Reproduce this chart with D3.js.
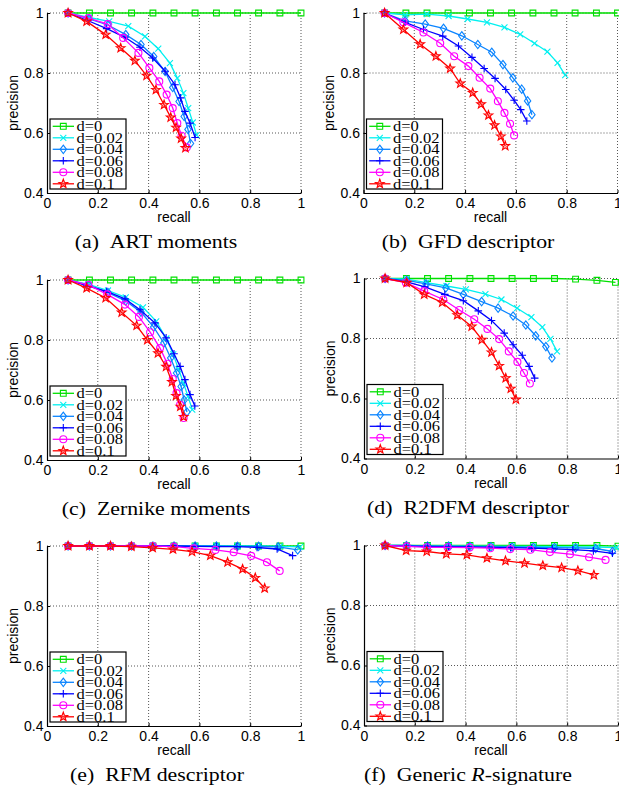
<!DOCTYPE html>
<html>
<head>
<meta charset="utf-8">
<script src="https://cdn.jsdelivr.net/npm/d3@7"></script>
<style>
  html, body { margin: 0; padding: 0; background: #fff; }
  svg { display: block; }
</style>
</head>
<body>
<svg id="chart" width="619" height="795"></svg>
<script>
// Series legend, colours and markers (same for all six panels)
const seriesLabels = ['d=0', 'd=0.02', 'd=0.04', 'd=0.06', 'd=0.08', 'd=0.1'];
const seriesColors = ['#00e000', '#00f0f0', '#0a84ff', '#0000ff', '#ff00ff', '#ff0000'];
const seriesMarkers = ['square', 'x', 'diamond', 'plus', 'circle', 'star'];

const xTicks = [0, 0.2, 0.4, 0.6, 0.8, 1];
const yTicks = [0.4, 0.6, 0.8, 1];

// Each panel: 6 series of [recall, precision]
const artMoments = [
  [[0.083,1],[0.167,1],[0.25,1],[0.333,1],[0.417,1],[0.5,1],[0.583,1],[0.667,1],[0.75,1],[0.833,1],[0.917,1],[1,1]],
  [[0.083,1],[0.165,0.985],[0.245,0.972],[0.32,0.956],[0.386,0.922],[0.438,0.881],[0.484,0.833],[0.513,0.783],[0.537,0.733],[0.556,0.683],[0.574,0.635],[0.589,0.593]],
  [[0.083,1],[0.165,0.98],[0.24,0.96],[0.31,0.928],[0.37,0.895],[0.42,0.855],[0.465,0.805],[0.495,0.752],[0.52,0.705],[0.54,0.655],[0.555,0.612],[0.565,0.565]],
  [[0.083,1],[0.16,0.975],[0.235,0.948],[0.307,0.919],[0.366,0.886],[0.416,0.85],[0.465,0.806],[0.504,0.761],[0.526,0.717],[0.543,0.672],[0.563,0.633],[0.583,0.585]],
  [[0.083,1],[0.163,0.983],[0.239,0.963],[0.3,0.917],[0.36,0.867],[0.403,0.817],[0.442,0.772],[0.471,0.728],[0.495,0.683],[0.513,0.633],[0.53,0.591],[0.55,0.552]],
  [[0.083,1],[0.156,0.972],[0.231,0.928],[0.29,0.883],[0.346,0.841],[0.392,0.791],[0.429,0.744],[0.461,0.694],[0.487,0.652],[0.508,0.618],[0.528,0.582],[0.545,0.55]]
];

const gfdDescriptor = [
  [[0.083,1],[0.167,1],[0.25,1],[0.333,1],[0.417,1],[0.5,1],[0.583,1],[0.667,1],[0.75,1],[0.833,1],[0.917,1],[1,1]],
  [[0.083,1],[0.164,0.994],[0.249,0.996],[0.335,0.99],[0.41,0.98],[0.486,0.969],[0.555,0.952],[0.617,0.929],[0.673,0.899],[0.724,0.871],[0.764,0.834],[0.794,0.793]],
  [[0.083,1],[0.164,0.974],[0.243,0.963],[0.315,0.949],[0.387,0.924],[0.45,0.895],[0.505,0.869],[0.549,0.828],[0.588,0.784],[0.623,0.746],[0.646,0.707],[0.663,0.661]],
  [[0.083,1],[0.164,0.969],[0.236,0.945],[0.312,0.923],[0.374,0.89],[0.427,0.852],[0.475,0.815],[0.518,0.782],[0.56,0.745],[0.593,0.709],[0.619,0.678],[0.643,0.64]],
  [[0.083,1],[0.157,0.969],[0.236,0.935],[0.302,0.899],[0.357,0.856],[0.413,0.823],[0.457,0.784],[0.499,0.748],[0.529,0.706],[0.555,0.667],[0.577,0.631],[0.593,0.592]],
  [[0.083,1],[0.157,0.945],[0.223,0.896],[0.285,0.856],[0.341,0.815],[0.381,0.765],[0.43,0.734],[0.463,0.696],[0.492,0.659],[0.516,0.626],[0.541,0.589],[0.558,0.557]]
];

const zernikeMoments = [
  [[0.083,1],[0.167,1],[0.25,1],[0.333,1],[0.417,1],[0.5,1],[0.583,1],[0.667,1],[0.75,1],[0.833,1],[0.917,1],[1,1]],
  [[0.083,1],[0.163,0.985],[0.24,0.965],[0.31,0.942],[0.378,0.909],[0.43,0.862],[0.47,0.805],[0.497,0.752],[0.518,0.702],[0.538,0.655],[0.555,0.612],[0.572,0.568]],
  [[0.083,1],[0.165,0.982],[0.24,0.958],[0.31,0.93],[0.37,0.893],[0.42,0.843],[0.46,0.79],[0.487,0.74],[0.51,0.69],[0.528,0.645],[0.54,0.6],[0.551,0.56]],
  [[0.083,1],[0.156,0.981],[0.235,0.962],[0.307,0.937],[0.366,0.901],[0.425,0.857],[0.469,0.807],[0.5,0.754],[0.524,0.712],[0.543,0.668],[0.563,0.618],[0.582,0.58]],
  [[0.083,1],[0.163,0.984],[0.237,0.952],[0.307,0.918],[0.362,0.877],[0.406,0.826],[0.445,0.773],[0.474,0.721],[0.495,0.67],[0.51,0.623],[0.524,0.584],[0.538,0.54]],
  [[0.083,1],[0.156,0.973],[0.231,0.94],[0.294,0.892],[0.353,0.848],[0.395,0.8],[0.437,0.756],[0.469,0.711],[0.492,0.66],[0.508,0.614],[0.525,0.578],[0.538,0.544]]
];

const r2dfmDescriptor = [
  [[0.083,1],[0.167,1],[0.25,1],[0.333,1],[0.417,1],[0.5,1],[0.583,1],[0.667,1],[0.75,1],[0.833,0.998],[0.917,0.994],[0.99,0.987]],
  [[0.083,1],[0.168,0.998],[0.246,0.986],[0.325,0.975],[0.401,0.964],[0.478,0.948],[0.541,0.93],[0.603,0.901],[0.659,0.871],[0.702,0.838],[0.734,0.799],[0.76,0.757]],
  [[0.083,1],[0.168,0.994],[0.244,0.982],[0.322,0.969],[0.391,0.947],[0.463,0.923],[0.528,0.901],[0.587,0.875],[0.637,0.845],[0.676,0.809],[0.716,0.773],[0.74,0.735]],
  [[0.083,1],[0.168,0.989],[0.24,0.972],[0.318,0.947],[0.391,0.926],[0.45,0.892],[0.502,0.86],[0.552,0.818],[0.587,0.779],[0.623,0.744],[0.65,0.707],[0.672,0.668]],
  [[0.083,1],[0.165,0.986],[0.237,0.958],[0.312,0.93],[0.375,0.895],[0.434,0.864],[0.486,0.832],[0.532,0.798],[0.57,0.757],[0.604,0.722],[0.63,0.685],[0.653,0.65]],
  [[0.083,1],[0.168,0.986],[0.237,0.947],[0.308,0.92],[0.367,0.878],[0.424,0.84],[0.464,0.796],[0.502,0.754],[0.532,0.709],[0.558,0.668],[0.578,0.633],[0.598,0.597]]
];

const rfmDescriptor = [
  [[0.083,1],[0.167,1],[0.25,1],[0.333,1],[0.417,1],[0.5,1],[0.583,1],[0.667,1],[0.75,1],[0.833,1],[0.917,1],[1,1]],
  [[0.083,1],[0.167,1],[0.25,1],[0.333,1],[0.417,1],[0.5,1],[0.583,1],[0.667,1],[0.75,1],[0.833,1],[0.917,0.999],[0.997,0.997]],
  [[0.083,1],[0.167,1],[0.25,1],[0.333,1],[0.417,1],[0.5,1],[0.583,1],[0.667,1],[0.75,0.999],[0.833,0.999],[0.91,0.997],[0.987,0.987]],
  [[0.083,1],[0.167,1],[0.25,1],[0.333,1],[0.417,1],[0.5,1],[0.583,0.999],[0.667,0.998],[0.748,0.998],[0.827,0.995],[0.906,0.99],[0.967,0.968]],
  [[0.083,1],[0.167,1],[0.25,1],[0.333,1],[0.417,1],[0.5,0.998],[0.577,0.992],[0.663,0.987],[0.735,0.979],[0.804,0.967],[0.866,0.946],[0.916,0.917]],
  [[0.083,1],[0.167,1],[0.25,1],[0.332,0.998],[0.416,0.994],[0.496,0.989],[0.571,0.981],[0.643,0.968],[0.711,0.946],[0.77,0.923],[0.82,0.894],[0.857,0.859]]
];

const genericRSignature = [
  [[0.083,1],[0.167,1],[0.25,1],[0.333,1],[0.417,1],[0.5,1],[0.583,1],[0.667,1],[0.75,1],[0.833,1],[0.917,1],[1,0.998]],
  [[0.083,1],[0.167,1],[0.25,0.999],[0.333,0.999],[0.417,0.998],[0.5,0.998],[0.583,0.997],[0.667,0.997],[0.75,0.996],[0.833,0.995],[0.917,0.995],[0.995,0.993]],
  [[0.083,1],[0.167,1],[0.25,0.998],[0.333,0.998],[0.417,0.997],[0.5,0.996],[0.583,0.995],[0.667,0.994],[0.75,0.993],[0.833,0.992],[0.912,0.99],[0.978,0.98]],
  [[0.083,1],[0.167,0.998],[0.25,0.997],[0.333,0.996],[0.413,0.995],[0.493,0.994],[0.577,0.993],[0.66,0.991],[0.741,0.989],[0.822,0.986],[0.903,0.982],[0.978,0.974]],
  [[0.083,1],[0.168,0.997],[0.247,0.994],[0.329,0.994],[0.416,0.993],[0.497,0.991],[0.576,0.988],[0.655,0.986],[0.732,0.978],[0.811,0.971],[0.886,0.961],[0.951,0.952]],
  [[0.083,1],[0.166,0.983],[0.247,0.98],[0.324,0.972],[0.405,0.969],[0.484,0.958],[0.557,0.949],[0.632,0.941],[0.704,0.933],[0.778,0.926],[0.842,0.916],[0.905,0.902]]
];

const panelCaptions = [
  ['(a)', 'ART moments'],
  ['(b)', 'GFD descriptor'],
  ['(c)', 'Zernike moments'],
  ['(d)', 'R2DFM descriptor'],
  ['(e)', 'RFM descriptor'],
  ['(f)', 'Generic ', 'R', '-signature']
];

// Layout
const plotW = 254, plotH = 180;
const panels = [
  { data: artMoments,        left: 47,    top: 13,    cx: 156 },
  { data: gfdDescriptor,     left: 363.5, top: 13,    cx: 468 },
  { data: zernikeMoments,    left: 47,    top: 280,   cx: 156 },
  { data: r2dfmDescriptor,   left: 364,   top: 278.5, cx: 468 },
  { data: rfmDescriptor,     left: 47,    top: 546,   cx: 157 },
  { data: genericRSignature, left: 364,   top: 545.5, cx: 468 }
];

const sansFont = "'Liberation Sans', Arial, Helvetica, sans-serif";
const serifFont = "'Liberation Serif', 'Times New Roman', serif";

const svg = d3.select('#chart');

function starPath(R, r) {
  let p = '';
  for (let i = 0; i < 10; i++) {
    const a = -Math.PI / 2 + i * Math.PI / 5;
    const rad = i % 2 === 0 ? R : r;
    p += (i === 0 ? 'M' : 'L') + (rad * Math.cos(a)).toFixed(2) + ',' + (rad * Math.sin(a)).toFixed(2);
  }
  return p + 'Z';
}

const markerShapes = {
  square: 'M-2.9,-2.9h5.8v5.8h-5.8Z',
  x: 'M-3,-3L3,3M-3,3L3,-3',
  diamond: 'M0,-4.2L3.2,0L0,4.2L-3.2,0Z',
  plus: 'M-3.8,0H3.8M0,-3.8V3.8',
  circle: d3.symbol(d3.symbolCircle, Math.PI * 3.5 * 3.5)(),
  star: starPath(4.6, 1.9)
};

function drawMarker(g, kind, color, x, y) {
  g.append('path')
    .attr('d', markerShapes[kind])
    .attr('transform', `translate(${x},${y})`)
    .attr('fill', kind === 'star' ? 'rgba(255,60,60,0.35)' : 'none')
    .attr('stroke', color)
    .attr('stroke-width', 1.1);
}

panels.forEach((panel, pi) => {
  const x = d3.scaleLinear().domain([0, 1]).range([panel.left, panel.left + plotW]);
  const y = d3.scaleLinear().domain([0.4, 1]).range([panel.top + plotH, panel.top]);
  const bottom = panel.top + plotH;
  const g = svg.append('g');

  // dotted grid
  const grid = g.append('g')
    .attr('stroke', '#444')
    .attr('stroke-width', 0.9)
    .attr('stroke-dasharray', '1,2');
  xTicks.filter(t => t > 0).forEach(t => {
    grid.append('line')
      .attr('x1', x(t)).attr('x2', x(t))
      .attr('y1', y(0.4)).attr('y2', y(1));
  });
  yTicks.filter(t => t > 0.4).forEach(t => {
    grid.append('line')
      .attr('x1', x(0)).attr('x2', x(1))
      .attr('y1', y(t)).attr('y2', y(t));
  });

  // axes (ticks point inward)
  const fmt = d3.format('~g');
  const xAxis = g.append('g')
    .attr('transform', `translate(0,${bottom})`)
    .call(d3.axisBottom(x).tickValues(xTicks).tickFormat(fmt)
      .tickSizeInner(-3).tickSizeOuter(0).tickPadding(5.5));
  const yAxis = g.append('g')
    .attr('transform', `translate(${panel.left},0)`)
    .call(d3.axisLeft(y).tickValues(yTicks).tickFormat(fmt)
      .tickSizeInner(-3).tickSizeOuter(0).tickPadding(3.5));
  [xAxis, yAxis].forEach(a => {
    a.selectAll('path.domain').attr('stroke', '#000').attr('stroke-width', 1.2);
    a.selectAll('.tick line').attr('stroke', '#000');
    a.selectAll('text')
      .attr('fill', '#000')
      .style('font-family', sansFont)
      .style('font-size', '14px');
  });

  // axis titles
  g.append('text')
    .attr('x', panel.left + plotW / 2)
    .attr('y', bottom + 29)
    .attr('text-anchor', 'middle')
    .style('font-family', sansFont)
    .style('font-size', '14px')
    .text('recall');
  g.append('text')
    .attr('transform', `translate(${panel.left - 29.5},${panel.top + plotH / 2}) rotate(-90)`)
    .attr('text-anchor', 'middle')
    .style('font-family', sansFont)
    .style('font-size', '14px')
    .text('precision');

  // curves
  const line = d3.line().x(d => x(d[0])).y(d => y(d[1]));
  panel.data.forEach((series, si) => {
    const color = seriesColors[si];
    g.append('path')
      .datum(series)
      .attr('d', line)
      .attr('fill', 'none')
      .attr('stroke', color)
      .attr('stroke-width', 1.3);
    series.forEach(d => drawMarker(g, seriesMarkers[si], color, x(d[0]), y(d[1])));
  });

  // legend
  const boxX = panel.left + 3, boxY = bottom - 74;
  const lg = g.append('g');
  lg.append('rect')
    .attr('x', boxX).attr('y', boxY)
    .attr('width', 76).attr('height', 70)
    .attr('fill', '#fff')
    .attr('stroke', '#000')
    .attr('stroke-width', 1.2);
  seriesLabels.forEach((label, si) => {
    const cy = boxY + 7.3 + si * 11.5;
    const color = seriesColors[si];
    lg.append('line')
      .attr('x1', boxX + 2.7).attr('x2', boxX + 24)
      .attr('y1', cy).attr('y2', cy)
      .attr('stroke', color)
      .attr('stroke-width', 1.3);
    drawMarker(lg, seriesMarkers[si], color, boxX + 13.3, cy);
    lg.append('text')
      .attr('transform', `translate(${boxX + 26.5},${cy + 4.8}) scale(1.1,1)`)
      .style('font-family', serifFont)
      .style('font-size', '15px')
      .attr('fill', '#000')
      .text(label);
  });

  // caption
  const cap = panelCaptions[pi];
  const ct = svg.append('text')
    .attr('transform', `translate(${panel.cx},${bottom + 55}) scale(1.12,1)`)
    .attr('text-anchor', 'middle')
    .style('font-family', serifFont)
    .style('font-size', '19.5px')
    .attr('fill', '#000');
  ct.append('tspan').text(cap[0] + '\u2002' + cap[1]);
  if (cap.length > 2) {
    ct.append('tspan').style('font-style', 'italic').text(cap[2]);
    ct.append('tspan').text(cap[3]);
  }
});
</script>
</body>
</html>
